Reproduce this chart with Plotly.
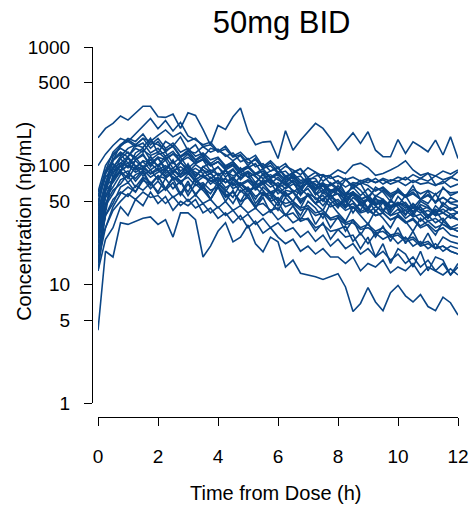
import plotly.graph_objects as go

# ---------------- data ----------------
times = [0, 0.25, 0.5, 0.75, 1, 1.25, 1.5, 1.75, 2, 2.25, 2.5, 2.75, 3, 3.25, 3.5, 3.75,
         4, 4.25, 4.5, 4.75, 5, 5.25, 5.5, 5.75, 6, 6.25, 6.5, 6.75, 7, 7.25, 7.5, 7.75,
         8, 8.25, 8.5, 8.75, 9, 9.25, 9.5, 9.75, 10, 10.25, 10.5, 10.75, 11, 11.25, 11.5, 11.75, 12]

subj01 = [172,206,227,262,242,276,317,317,258,255,272,206,279,265,202,149,218,202,258,306,193,150,158,160,115,197,135,164,193,227,206,170,135,159,189,154,193,135,119,119,166,127,159,145,131,164,123,175,115]
subj02 = [4.1,19,17,33,32,34,36,37,32,35,25,40,40,35,17,21,28,33,22.8,25,31.6,22,18.8,25,22.8,14,16,12.4,12,11.6,11,11.6,12.3,9.5,5.9,6.9,9.4,7.1,6.0,8.5,9.8,8.0,7.1,8.2,6.5,6.0,7.8,7.0,5.5]
subj03 = [13,24,30,45,38,52,46,60,48,55,42,50,46,52,40,44,36,40,33,38,30,34,27,30,25,22,24,19,21,18,20,17,17,15,17,13,15,14,16,12.5,14,13,15,12,14,13,12,13.5,12]
subj04 = [100,125,148,170,160,187,215,250,205,240,196,232,178,165,150,158,132,146,120,130,112,122,98,110,95,104,86,94,80,88,74,82,70,78,64,72,68,61,66,58,62,55,60,52,57,49,54,48,46]
subj05 = [55,90,112,130,118,150,142,170,128,160,146,175,134,150,118,140,134,124,110,122,100,116,94,106,88,99,92,84,96,88,81,83,92,86,101,105,96,83,86,92,99,110,92,83,87,69,71,79,89]
subj06 = [40,72,98,115,96,128,140,112,125,130,104,118,95,108,112,90,97,85,94,78,88,82,70,76,68,74,60,66,71,57,62,55,58,52,60,48,51,46,52,44,47,49,41,45,38,43,40,36,41]
subj07 = [25,48,62,70,85,78,92,80,88,95,76,84,90,72,80,75,68,78,64,70,60,66,72,58,62,55,60,50,56,48,53,58,46,50,44,47,40,45,42,38,43,36,40,34,38,33,36,30,32]
subj08 = [18,45,80,105,120,140,130,160,150,135,145,118,128,110,120,100,108,92,100,84,90,80,72,78,66,70,62,58,64,52,56,48,52,45,48,41,44,38,40,35,37,33,35,30,32,28,30,26,25]
subj09 = [55,88,104,90,118,100,92,120,98,112,86,106,94,80,98,104,82,92,76,96,80,70,86,74,66,82,72,60,76,70,58,72,64,54,70,62,52,66,60,50,64,55,68,52,61,48,66,56,60]
subj10 = [30,65,110,150,170,160,185,150,170,140,155,130,140,120,128,112,118,100,108,92,98,85,90,78,84,72,80,64,74,57,69,52,63,50,58,50,52,47,49,44,48,39,45,43,36,42,34,39,35]
subj11 = [20,38,52,60,55,68,62,72,58,65,54,60,50,57,48,52,44,50,42,46,40,44,38,42,35,39,33,36,35,28,33,24,29,31,23,27,22,27,24,26,22,25,21,23,20,22,19,21,20]
subj12 = [35,64,92,100,84,112,126,98,118,90,112,84,104,80,98,88,72,94,68,82,86,62,76,72,58,66,74,56,68,60,50,62,58,46,60,54,44,56,52,42,55,47,40,50,46,38,49,43,45]
subj13 = [15,30,45,58,66,60,75,70,82,78,90,85,95,88,80,86,74,78,68,72,62,66,56,60,52,48,50,44,46,40,42,36,38,33,35,30,32,28,30,26,27,24,25,22,23,20,21,19,18]
subj14 = [45,90,130,150,160,145,155,128,140,120,132,110,125,104,115,100,108,95,102,88,96,84,90,80,86,76,82,72,78,78,62,69,75,58,66,71,55,63,64,56,60,54,58,52,56,50,54,49,50]
subj15 = [22,46,58,76,82,66,80,72,60,78,64,74,56,70,62,52,66,58,48,62,54,44,58,50,42,54,46,38,50,44,36,48,40,34,45,38,32,42,36,30,39,34,28,36,31,26,34,30,28]
subj16 = [60,100,125,140,128,118,135,122,130,115,126,108,118,104,112,100,108,96,104,92,96,104,84,90,98,78,88,94,74,82,84,78,82,76,80,74,78,72,76,70,74,68,75,70,72,68,74,66,70]
subj17 = [28,55,78,92,100,88,96,85,92,80,86,74,80,68,72,62,66,56,60,50,54,46,48,42,44,38,40,34,36,30,32,28,29,25,26,20,25,17,22,15,20,18,14,19,13,17,16,12,15]
subj18 = [50,80,95,105,100,110,96,104,92,100,90,98,88,95,86,92,84,90,82,88,80,86,78,84,76,70,86,66,79,64,83,70,62,76,68,75,72,78,70,76,74,80,72,78,74,82,76,80,75]
subj19 = [13,40,85,115,130,112,122,104,115,96,108,90,100,84,92,78,86,72,80,68,74,64,70,60,64,56,60,52,56,48,52,45,48,42,45,40,42,38,40,35,38,33,36,31,34,30,32,29,30]
subj20 = [38,62,72,90,78,98,82,92,76,94,80,70,86,74,64,80,70,60,76,66,56,72,62,52,68,58,50,64,56,48,60,52,44,56,50,42,54,46,40,52,44,38,48,42,36,46,40,44,40]
subj21 = [26,60,95,120,140,150,170,160,180,200,175,190,160,170,145,150,130,138,118,124,105,112,95,100,86,90,78,82,70,74,68,58,63,50,57,46,52,41,49,38,40,42,37,39,34,36,32,30,28]
subj22 = [18,38,48,66,72,60,78,64,74,62,72,56,70,58,66,52,68,54,60,50,64,48,58,56,46,60,50,44,58,48,42,56,46,52,40,50,44,54,42,50,46,56,44,52,48,58,46,54,50]
subj23 = [32,55,75,90,100,95,110,105,118,112,125,120,132,128,145,130,138,120,128,108,115,98,104,90,95,82,86,75,78,68,72,62,65,56,60,52,55,48,50,45,47,42,44,40,42,38,40,37,35]
subj24 = [24,54,66,84,90,74,88,68,82,64,78,58,74,56,70,52,66,50,62,46,58,44,54,40,50,38,46,35,44,32,40,30,37,28,35,26,33,25,31,23,30,22,28,21,27,20,25,23,22]
subj25 = [42,70,88,98,105,92,100,86,96,82,92,80,88,76,84,74,80,72,78,70,76,68,74,66,72,64,70,66,72,64,70,68,74,66,72,70,76,72,78,74,80,76,84,78,86,82,90,85,92]
subj26 = [16,45,78,100,115,98,108,92,102,86,96,80,90,76,84,70,78,65,72,60,66,55,60,50,54,45,48,42,44,38,40,35,36,32,33,29,30,27,28,25,26,23,24,21,22,20,21,19,18]
subj27 = [34,68,76,88,72,84,90,70,82,64,80,74,60,78,66,58,72,62,54,70,64,52,66,58,50,62,60,48,58,54,46,56,50,44,54,48,42,52,50,40,49,46,38,47,44,40,46,42,45]
subj28 = [20,30,42,50,58,52,60,54,56,48,55,46,52,44,48,40,45,38,42,35,39,32,36,30,33,28,30,25,28,23,26,21,24,20,22,18,20,17,19,16,18,15,17,14,16,13,15,12,14]
subj29 = [48,85,110,125,105,118,96,112,100,120,95,108,88,102,92,85,98,80,92,76,88,72,84,70,80,68,76,64,72,62,70,60,68,58,66,56,64,55,62,54,60,56,63,58,62,57,64,59,60]
subj30 = [28,70,120,145,165,150,170,140,160,130,148,120,135,112,125,104,115,98,108,92,100,86,94,80,88,75,82,70,76,65,70,60,64,56,60,52,56,49,52,46,49,44,47,42,45,40,43,39,40]

subjects = [subj01, subj02, subj03, subj04, subj05, subj06, subj07, subj08, subj09, subj10,
            subj11, subj12, subj13, subj14, subj15, subj16, subj17, subj18, subj19, subj20,
            subj21, subj22, subj23, subj24, subj25, subj26, subj27, subj28, subj29, subj30]

x_ticks = [0, 2, 4, 6, 8, 10, 12]
y_ticks = [1, 5, 10, 50, 100, 500, 1000]
y_tick_labels = ["1", "5", "10", "50", "100", "500", "1000"]

bad = [i + 1 for i, s in enumerate(subjects) if len(s) != len(times)]
if bad:
    raise ValueError("length mismatch in subjects %s: %s" % (bad, [len(subjects[i - 1]) for i in bad]))

# ---------------- figure ----------------
LINE = "#0b4686"
FONT = "Liberation Sans, Arial, Helvetica, sans-serif"

fig = go.Figure()
for s in subjects:
    fig.add_trace(go.Scatter(x=times, y=s, mode="lines",
                             line=dict(color=LINE, width=1.6),
                             showlegend=False, hoverinfo="skip"))

W, H = 470, 507
L, R, T, B = 92, 12, 47, 90
PW, PH = W - L - R, H - T - B

axis_common = dict(showline=True, linecolor="black", linewidth=1.3,
                   ticks="outside", ticklen=8, tickwidth=1.3, tickcolor="black",
                   showgrid=False, zeroline=False, anchor="free", position=0,
                   automargin=False,
                   tickfont=dict(size=19, color="black", family=FONT))

fig.update_layout(
    width=W, height=H,
    margin=dict(l=L, r=R, t=T, b=B, pad=0, autoexpand=False),
    paper_bgcolor="white", plot_bgcolor="white",
    font=dict(family=FONT, color="black"),
    showlegend=False,
    title=dict(text="50mg BID", x=0.518, xref="paper", xanchor="center",
               y=1 - 22 / H, yref="container", yanchor="middle",
               font=dict(size=31, family=FONT, color="black")),
    xaxis=dict(range=[0, 12], domain=[6 / PW, 1], tickvals=x_ticks,
               ticklabelstandoff=14, **axis_common),
    yaxis=dict(type="log", range=[0, 3], domain=[14 / PH, 1],
               tickvals=y_ticks, ticktext=y_tick_labels,
               ticklabelstandoff=10, **axis_common),
    annotations=[
        dict(text="Time from Dose (h)", xref="paper", yref="paper",
             x=0.503, y=-0.205, xanchor="center", yanchor="middle",
             showarrow=False, font=dict(size=20, family=FONT, color="black")),
        dict(text="Concentration (ng/mL)", xref="paper", yref="paper",
             x=-0.186, y=0.53, xanchor="center", yanchor="middle", textangle=-90,
             showarrow=False, font=dict(size=20, family=FONT, color="black")),
    ],
)

fig.write_html("out.html")
